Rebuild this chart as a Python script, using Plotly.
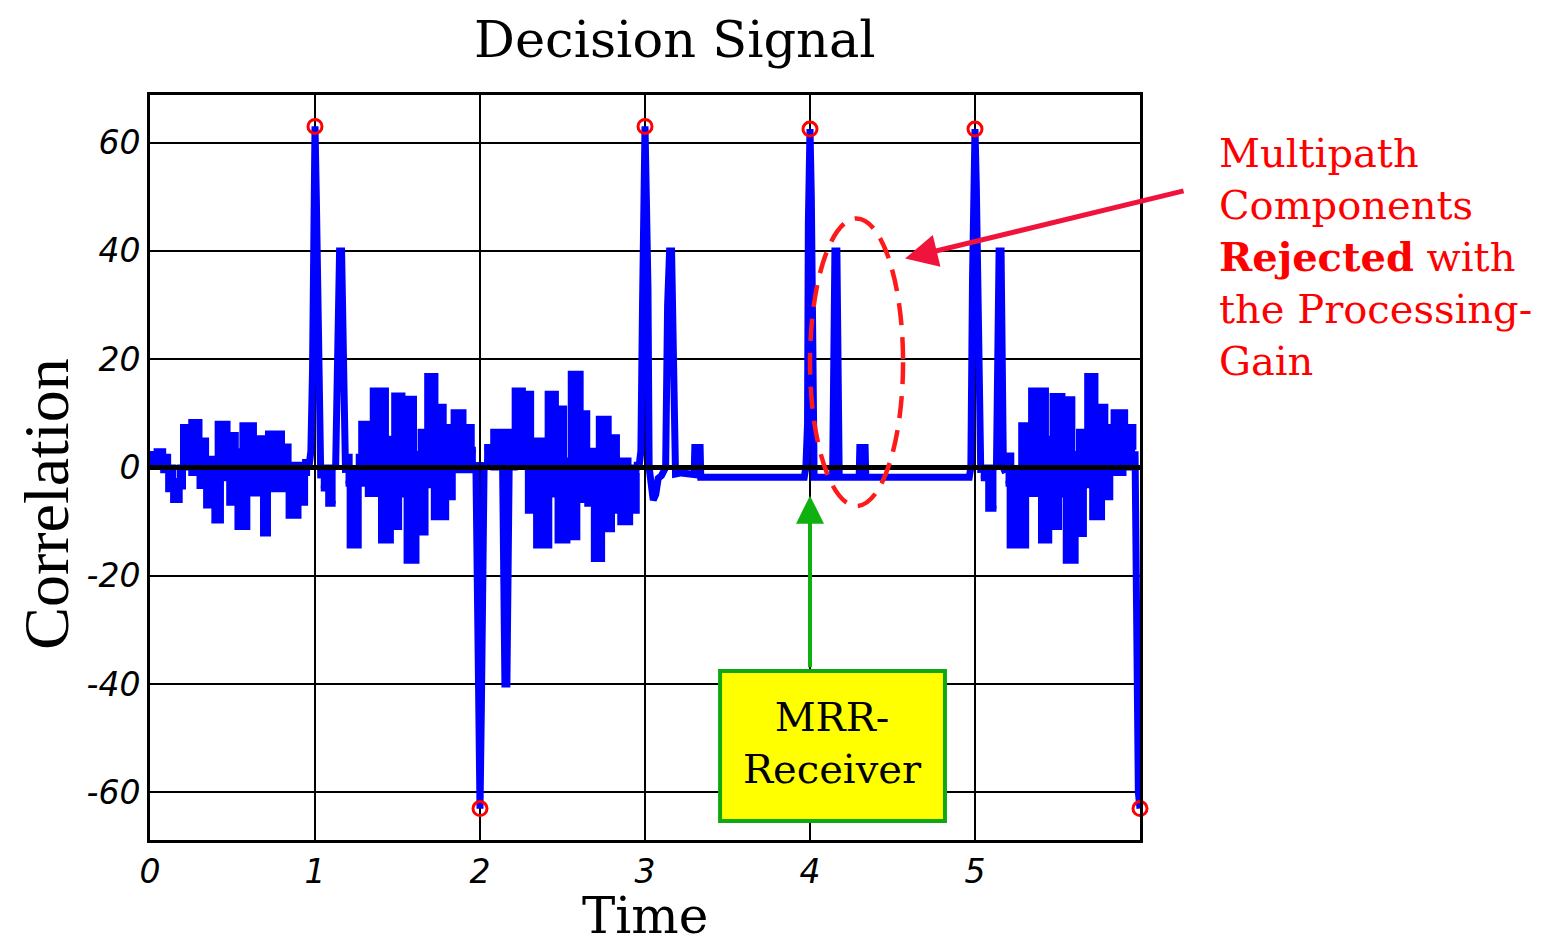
import plotly.graph_objects as go

# ---------------- data ----------------
x_tick_vals = [0, 1, 2, 3, 4, 5]
x_tick_text = ["0", "1", "2", "3", "4", "5"]
y_tick_vals = [-60, -40, -20, 0, 20, 40, 60]
y_tick_text = ["-60", "-40", "-20", "0", "20", "40", "60"]

# deterministic parts of the decision signal (peaks, flat parts)
t_signal = [
    0.965, 0.975, 0.985, 0.99, 1.0, 1.008, 1.018, 1.025, 1.035, None,
    1.125, 1.137, 1.149, 1.161, 1.167, 1.175, 1.185, None,
    1.975, 1.985, 1.99, 2.0, 2.008, 2.018, 2.025, None,
    2.137, 2.145, 2.151, 2.163, 2.169, 2.177, None,
    2.965, 2.975, 2.985, 2.99, 3.0, 3.008, 3.018, 3.025, 3.035, 3.05, 3.065, 3.08, 3.1, 3.115,
    3.125, 3.137, 3.149, 3.161, 3.167, 3.175, 3.185, 3.22, 3.26, 3.298, 3.302, 3.334, 3.338,
    3.965, 3.975, 3.985, 3.99, 4.0, 4.008, 4.018, 4.025, 4.137, 4.145, 4.151, 4.163, 4.169, 4.177,
    4.298, 4.302, 4.334, 4.338,
    4.965, 4.975, 4.985, 4.99, 5.0, 5.008, 5.018, 5.025, 5.035, None,
    5.13, 5.14, 5.146, 5.158, 5.164, 5.172, 5.185, None,
    5.97, 5.98, 5.99, 6.0,
]
v_signal = [
    0.5, 3, 18, 43, 63, 50, 28, 0, -2, None,
    0, 30, 40, 40, 22, 0, -1, None,
    1, -27, -45, -63, -45, -20, 1, None,
    0, -31, -40, -40, -20, 1, None,
    0.5, 3, 30, 48, 63, 50, 33, 0, -2, -6, -5, -2, -1.5, -0.5,
    0, 30, 40, 40, 22, 0, -1.2, -1.0, -1.2, -1.3, 3.7, 3.7, -1.8,
    -1.8, 0, 8, 45, 62.5, 50, 10, -1.8, -1.8, 30, 40, 40, 22, -1.8,
    -1.8, 3.7, 3.7, -1.8,
    -1.8, 0, 35, 50, 62.5, 52, 30, 0, -1, None,
    0, 30, 40, 40, 22, 0, -1, None,
    3, -45, -60, -63,
]

# noisy (cross-correlation) parts: upper / lower envelope of the fast oscillation
t_noise_a = [0.00, 0.04, 0.08, 0.11, 0.14, 0.18, 0.20, 0.25, 0.30, 0.34, 0.39, 0.41, 0.43, 0.47,
             0.48, 0.52, 0.53, 0.56, 0.59, 0.63, 0.685, 0.715, 0.80, 0.84, 0.90, 0.94, 0.97]
hi_noise_a = [2.5, 3.0, 2.0, 0.0, -2.5, 0.0, 7.5, 8.4, 5.0, 1.6, 1.6, 8.1, 8.1, 6.0,
              6.0, 3.0, 3.0, 7.8, 7.8, 5.4, 2.0, 6.3, 3.9, 0.5, 0.5, 1.0, 1.0]
lo_noise_a = [1.0, 0.5, -0.5, -4.0, -6.0, -3.5, 0.0, -1.0, -3.4, -7.0, -9.8, -9.8, -2.0, -2.0,
              -6.5, -6.5, -11.0, -11.0, -4.8, -4.8, -12.2, -4.0, -4.0, -8.9, -6.5, -1.0, -1.0]

t_noise_b0 = [1.035, 1.08, 1.125]
hi_noise_b0 = [0.0, 0.0, 0.0]
lo_noise_b0 = [-3.9, -6.7, -6.7]

t_noise_b = [1.185, 1.21, 1.265, 1.28, 1.32, 1.35, 1.40, 1.43, 1.46, 1.48, 1.51, 1.53, 1.54, 1.555,
             1.60, 1.615, 1.64, 1.67, 1.68, 1.72, 1.73, 1.78, 1.795, 1.835, 1.84, 1.90, 1.95, 1.975]
hi_noise_b = [2.0, -1.0, 2.0, 8.1, 8.1, 14.2, 14.2, 5.3, 5.3, 13.3, 13.3, 5.0, 12.7, 12.7,
              2.5, 2.5, 6.6, 6.6, 16.9, 16.9, 11.2, 7.5, 7.5, 7.5, 10.2, 7.5, 3.3, 3.3]
lo_noise_b = [-3.0, -14.4, -3.0, -3.0, -4.9, -4.9, -13.5, -13.5, -11.0, -11.0, -5.0, -5.0, -5.0, -17.2,
              -17.2, -12.0, -12.0, -3.3, -3.3, -9.2, -9.2, -9.2, -5.5, -0.5, -0.5, -0.5, 0.5, 0.5]

t_noise_c = [2.025, 2.08, 2.21, 2.26, 2.29, 2.31, 2.34, 2.41, 2.42, 2.46, 2.47, 2.51, 2.53, 2.55,
             2.59, 2.61, 2.65, 2.69, 2.72, 2.74, 2.78, 2.80, 2.83, 2.85, 2.90, 2.91, 2.95, 2.965]
hi_noise_c = [3.8, 6.6, 14.2, 13.6, 13.6, 3.8, 5.0, 13.6, 13.6, 10.9, 10.9, 1.3, 1.3, 17.3,
              17.3, 10.0, 3.1, 3.1, 9.0, 9.0, 5.6, 5.6, 1.3, 1.3, 0.0, 0.0, 0.5, 0.5]
lo_noise_c = [1.0, 0.0, 0.5, 0.5, -8.0, -8.0, -14.4, -14.4, -5.0, -5.0, -13.5, -13.5, -12.9, -12.9,
              -5.0, -6.0, -6.7, -16.9, -16.9, -11.4, -11.4, -8.0, -8.0, -10.1, -10.1, -8.0, -1.0, -1.0]

t_noise_d0 = [5.035, 5.08, 5.13]
hi_noise_d0 = [0.0, 0.0, 0.0]
lo_noise_d0 = [-2.0, -7.6, -7.6]

t_noise_d = [5.185, 5.21, 5.22, 5.28, 5.31, 5.34, 5.40, 5.43, 5.45, 5.47, 5.51, 5.53, 5.55, 5.59,
             5.61, 5.63, 5.66, 5.68, 5.71, 5.73, 5.77, 5.79, 5.82, 5.84, 5.90, 5.91, 5.96, 5.97]
hi_noise_d = [2.2, 2.2, -1.0, 7.8, 7.8, 14.2, 14.2, 5.3, 5.3, 13.2, 13.2, 12.6, 12.6, 2.5,
              2.5, 6.6, 6.6, 16.9, 16.9, 11.2, 11.2, 7.5, 7.5, 10.2, 10.2, 7.5, 3.3, 3.3]
lo_noise_d = [-3.0, -14.4, -14.4, -14.4, -4.9, -4.9, -13.5, -13.5, -11.0, -11.0, -5.0, -5.0, -17.2, -17.2,
              -12.3, -12.3, -3.3, -3.3, -9.2, -9.2, -5.5, -5.5, -1.0, -1.0, 0.0, 0.0, 0.0, 0.0]

t_peaks = [1, 2, 3, 4, 5, 6]
v_peaks = [63, -63, 63, 62.5, 62.5, -63]

# ---------------- figure ----------------
BLUE = "#0000FF"
fig = go.Figure()

noise_sets = [
    (t_noise_a, hi_noise_a, lo_noise_a),
    (t_noise_b0, hi_noise_b0, lo_noise_b0),
    (t_noise_b, hi_noise_b, lo_noise_b),
    (t_noise_c, hi_noise_c, lo_noise_c),
    (t_noise_d0, hi_noise_d0, lo_noise_d0),
    (t_noise_d, hi_noise_d, lo_noise_d),
]
for t_n, hi_n, lo_n in noise_sets:
    fig.add_trace(go.Scatter(x=t_n, y=lo_n, mode="lines", line=dict(color=BLUE, width=6, shape="hv"),
                             showlegend=False, hoverinfo="skip"))
    fig.add_trace(go.Scatter(x=t_n, y=hi_n, mode="lines", line=dict(color=BLUE, width=6, shape="hv"),
                             fill="tonexty", fillcolor=BLUE, showlegend=False, hoverinfo="skip"))

fig.add_trace(go.Scatter(x=t_signal, y=v_signal, mode="lines",
                         line=dict(color=BLUE, width=7), connectgaps=False,
                         showlegend=False))

fig.add_trace(go.Scatter(x=t_peaks, y=v_peaks, mode="markers",
                         marker=dict(symbol="circle-open", size=14, color="#FF0000",
                                     line=dict(width=3, color="#FF0000")),
                         cliponaxis=False, showlegend=False))

tickfont = dict(family="DejaVu Sans", size=33, color="black", style="italic")
fig.update_xaxes(range=[0, 6], tickvals=x_tick_vals, ticktext=x_tick_text,
                 showline=True, mirror=True, linecolor="black", linewidth=3,
                 ticks="inside", ticklen=8, tickwidth=2, tickcolor="black",
                 showgrid=True, gridcolor="black", gridwidth=1.5, zeroline=False,
                 tickfont=tickfont)
fig.update_yaxes(range=[-68.8, 68.8], tickvals=y_tick_vals, ticktext=y_tick_text,
                 showline=True, mirror=True, linecolor="black", linewidth=3,
                 ticks="inside", ticklen=8, tickwidth=2, tickcolor="black",
                 showgrid=True, gridcolor="black", gridwidth=1.5, zeroline=False,
                 tickfont=tickfont)

shapes = [
    dict(type="line", xref="x", yref="y", x0=0, x1=6, y0=0, y1=0,
         line=dict(color="black", width=5), layer="above"),
    dict(type="circle", xref="x", yref="y", x0=4.0, x1=4.564, y0=-7.1, y1=46,
         line=dict(color="#FF1A1A", width=4.5, dash="22px,12px"), layer="above"),
    dict(type="rect", xref="x", yref="y", x0=3.455, x1=4.818, y0=-65.3, y1=-37.6,
         fillcolor="#FFFF00", line=dict(color="#10A810", width=4), layer="above"),
]

serif = "DejaVu Serif"
annotations = [
    dict(text="Decision Signal", xref="paper", yref="paper", x=0.530, y=1.074,
         showarrow=False, font=dict(family=serif, size=51, color="black"),
         xanchor="center", yanchor="middle"),
    dict(text="Time", xref="paper", yref="paper", x=0.5, y=-0.102,
         showarrow=False, font=dict(family=serif, size=50, color="black"),
         xanchor="center", yanchor="middle"),
    dict(text="Correlation", xref="paper", yref="paper", x=-0.104, y=0.45,
         showarrow=False, textangle=-90, font=dict(family="Liberation Serif", size=64, color="black"),
         xanchor="center", yanchor="middle"),
    dict(text="Multipath<br>Components<br><b>Rejected</b> with<br>the Processing-<br>Gain",
         xref="paper", yref="paper", x=1.078, y=0.956, align="left",
         showarrow=False, font=dict(family=serif, size=40, color="#FF0000"),
         xanchor="left", yanchor="top"),
    dict(text="MRR-<br>Receiver", xref="x", yref="y", x=4.136, y=-50.8, showarrow=False,
         font=dict(family=serif, size=40, color="black"), xanchor="center", yanchor="middle"),
    # red arrow
    dict(text="", xref="x", yref="y", x=4.576, y=38.6, ax=280, ay=-68, axref="pixel", ayref="pixel",
         showarrow=True, arrowhead=2, arrowsize=1.3, arrowwidth=5, arrowcolor="#F0143C"),
    # green arrow
    dict(text="", xref="x", yref="y", x=4.0, y=-5.2, ax=0, ay=173, axref="pixel", ayref="pixel",
         showarrow=True, arrowhead=2, arrowsize=1.4, arrowwidth=4, arrowcolor="#10B010"),
]

fig.update_layout(
    width=1544, height=942,
    margin=dict(l=142, r=412, t=87, b=110),
    plot_bgcolor="white", paper_bgcolor="white",
    shapes=shapes, annotations=annotations,
    showlegend=False,
)

fig.write_html("out.html")
